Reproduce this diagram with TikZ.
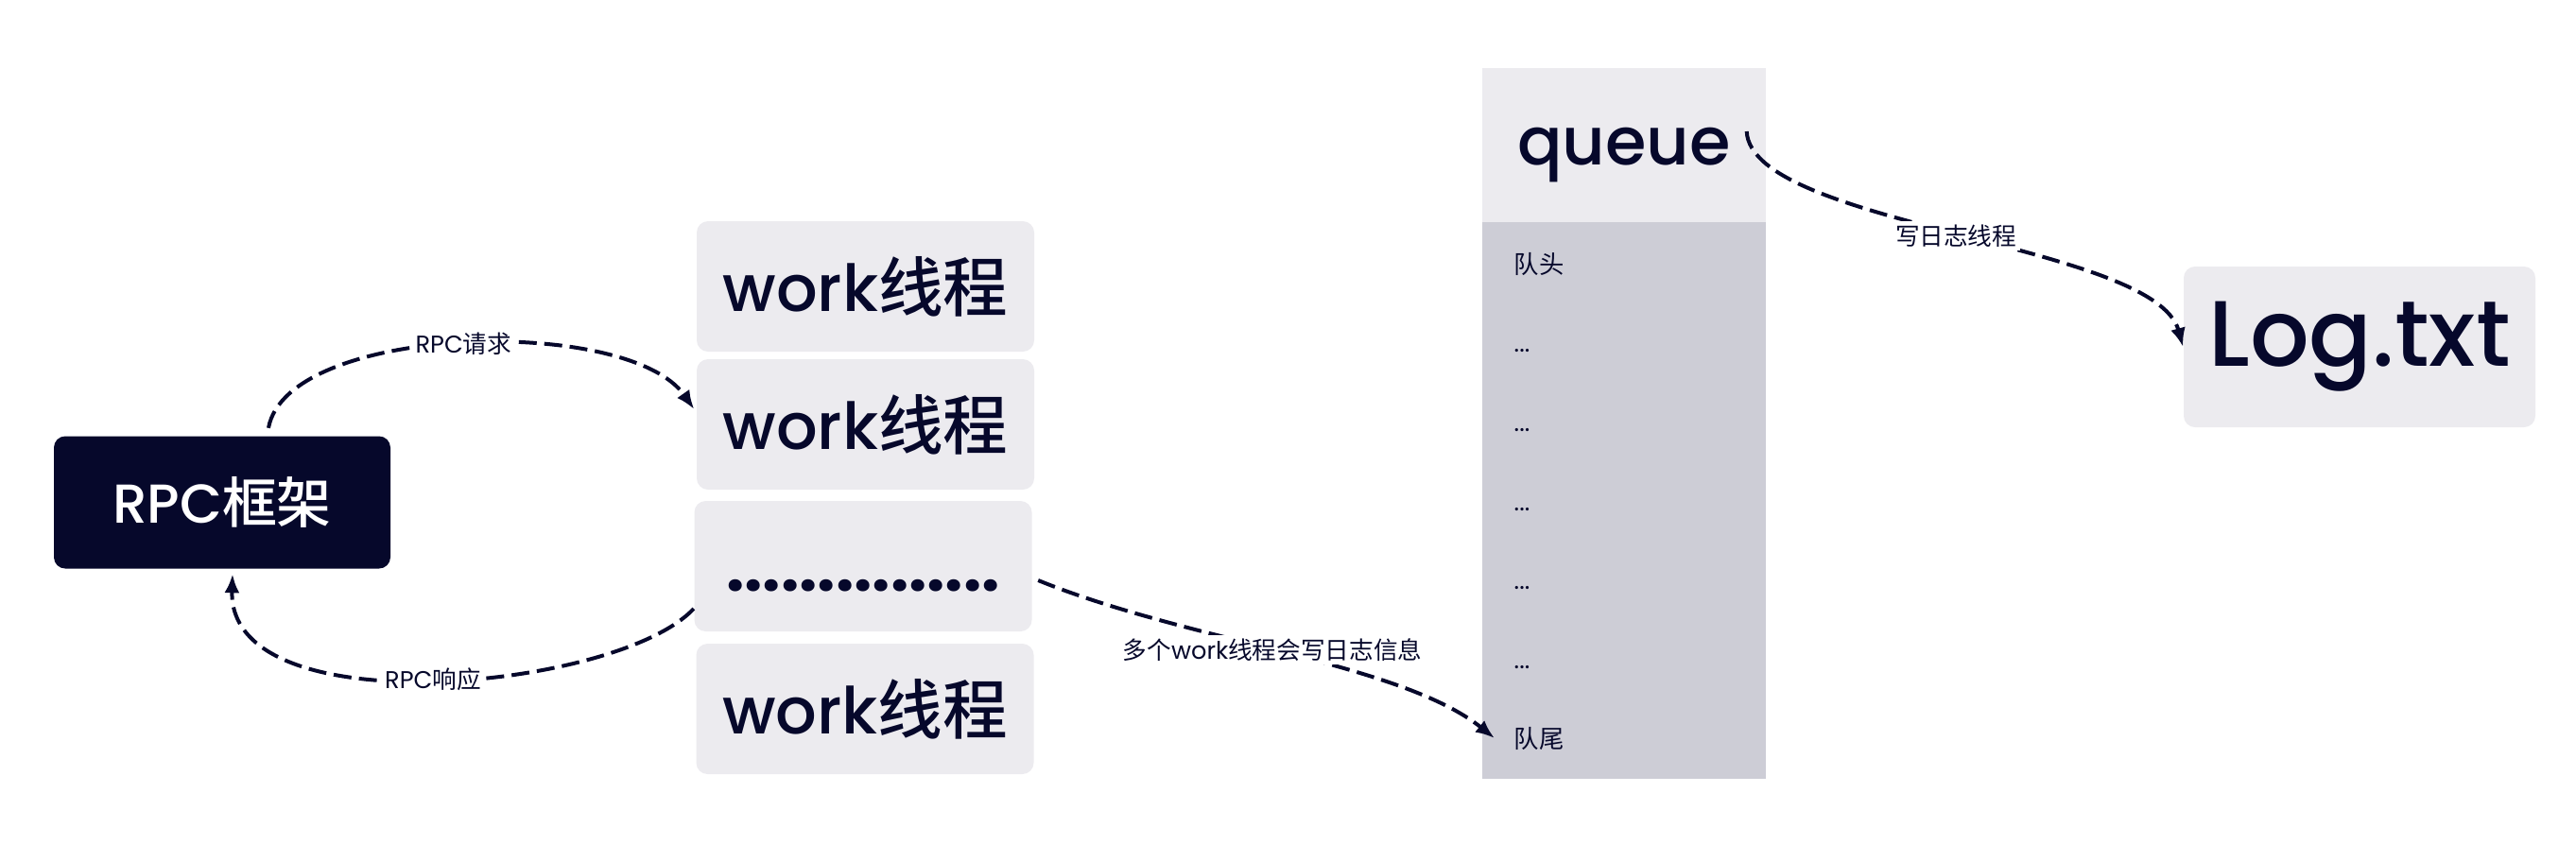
\documentclass[tikz,border=0pt]{standalone}
\usepackage{fontspec}
\setmainfont{Poppins}
\newfontfamily\cjk{Noto Sans CJK SC}
\newfontfamily\latmed{Poppins Medium}
\newfontfamily\cjkmed{Noto Sans CJK SC Medium}
\usetikzlibrary{arrows.meta,positioning}

\definecolor{ink}{HTML}{06082B}
\definecolor{boxgray}{HTML}{ECEBEF}
\definecolor{qgray}{HTML}{CDCDD6}

\tikzset{
  workbox/.style={fill=boxgray,rounded corners=0.12cm,minimum width=3.57cm,minimum height=1.38cm,text=ink,font=\fontsize{19.5}{22}\selectfont\latmed},
  flow/.style={ink,line width=0.04cm,dash pattern=on 0.19cm off 0.08cm,-{Latex[length=0.2cm,width=0.16cm]}},
  lbl/.style={fill=white,text=ink,inner sep=1pt,font=\fontsize{7.3}{8}\selectfont},
  qitem/.style={anchor=base west,inner sep=0pt,text=ink,font=\fontsize{7.5}{8}\selectfont},
}

\begin{document}
\begin{tikzpicture}
\useasboundingbox (0,0) rectangle (27.25,-9.11);

%% rpc framework and worker threads
\node[fill=ink,rounded corners=0.12cm,minimum width=3.56cm,minimum height=1.4cm,text=white,font=\fontsize{16.5}{18}\selectfont\latmed] (rpc) at (2.35,-5.315) {RPC{\cjkmed 框架}};

\node[workbox] (w1) at (9.155,-3.03) {work{\cjkmed 线程}};
\node[workbox] (w2) at (9.155,-4.49) {work{\cjkmed 线程}};
\node[workbox,font=\fontsize{19.5}{22}\selectfont\bfseries] (w3) at (9.13,-5.99) {\vphantom{work{\cjkmed 线程}}...............};
\node[workbox] (w4) at (9.15,-7.50) {work{\cjkmed 线程}};

%% queue
\node[fill=qgray,minimum width=3cm,minimum height=5.89cm,inner sep=0pt] (qbody) at (17.18,-5.295) {};
\node[fill=boxgray,minimum width=3cm,minimum height=1.63cm,text height=0.61cm,text depth=0.2cm,text=ink,font=\fontsize{20}{22}\selectfont\latmed] (qhead) at (17.18,-1.535) {queue};

\node[qitem] (head) at (16.01,-2.89) {\cjk 队头};
\foreach \k in {1,...,5}
  \node[qitem] (q\k) at (16.01,{-2.89-0.837*\k}) {...};
\node[qitem] (tail) at (16.01,-7.91) {\cjk 队尾};

%% log file
\node[workbox,minimum width=3.72cm,minimum height=1.7cm,font=\fontsize{28}{32}\selectfont\latmed] (log) at (24.96,-3.67) {Log.txt};

%% arrows
\draw[flow] ([xshift=4.9mm,yshift=0.8mm]rpc.north) .. controls +(0.2,1.1) and +(-0.7,1.0) .. ([xshift=-0.2mm,yshift=1.6mm]w2.west) node[lbl,pos=0.5] {RPC{\cjk 请求}};
\draw[flow] ([yshift=-4.5mm]w3.west) .. controls +(-0.8,-0.86) and +(-0.05,-1.63) .. ([xshift=1.1mm,yshift=-0.5mm]rpc.south) node[lbl,pos=0.5] {RPC{\cjk 响应}};
\draw[flow] ([xshift=0.6mm,yshift=-1.5mm]w3.east) .. controls +(1.6,-0.65) and +(-1.0,0.8) .. ([xshift=-2mm]tail.west) node[lbl,pos=0.47] {{\cjk 多个}work{\cjk 线程会写日志信息}};
\draw[flow] ([xshift=-2.1mm,yshift=1.45mm]qhead.east) .. controls +(0.05,-1.0) and +(-0.3,1.1) .. (log.west) node[lbl,pos=0.5] {{\cjk 写日志线程}};

\end{tikzpicture}
\end{document}
